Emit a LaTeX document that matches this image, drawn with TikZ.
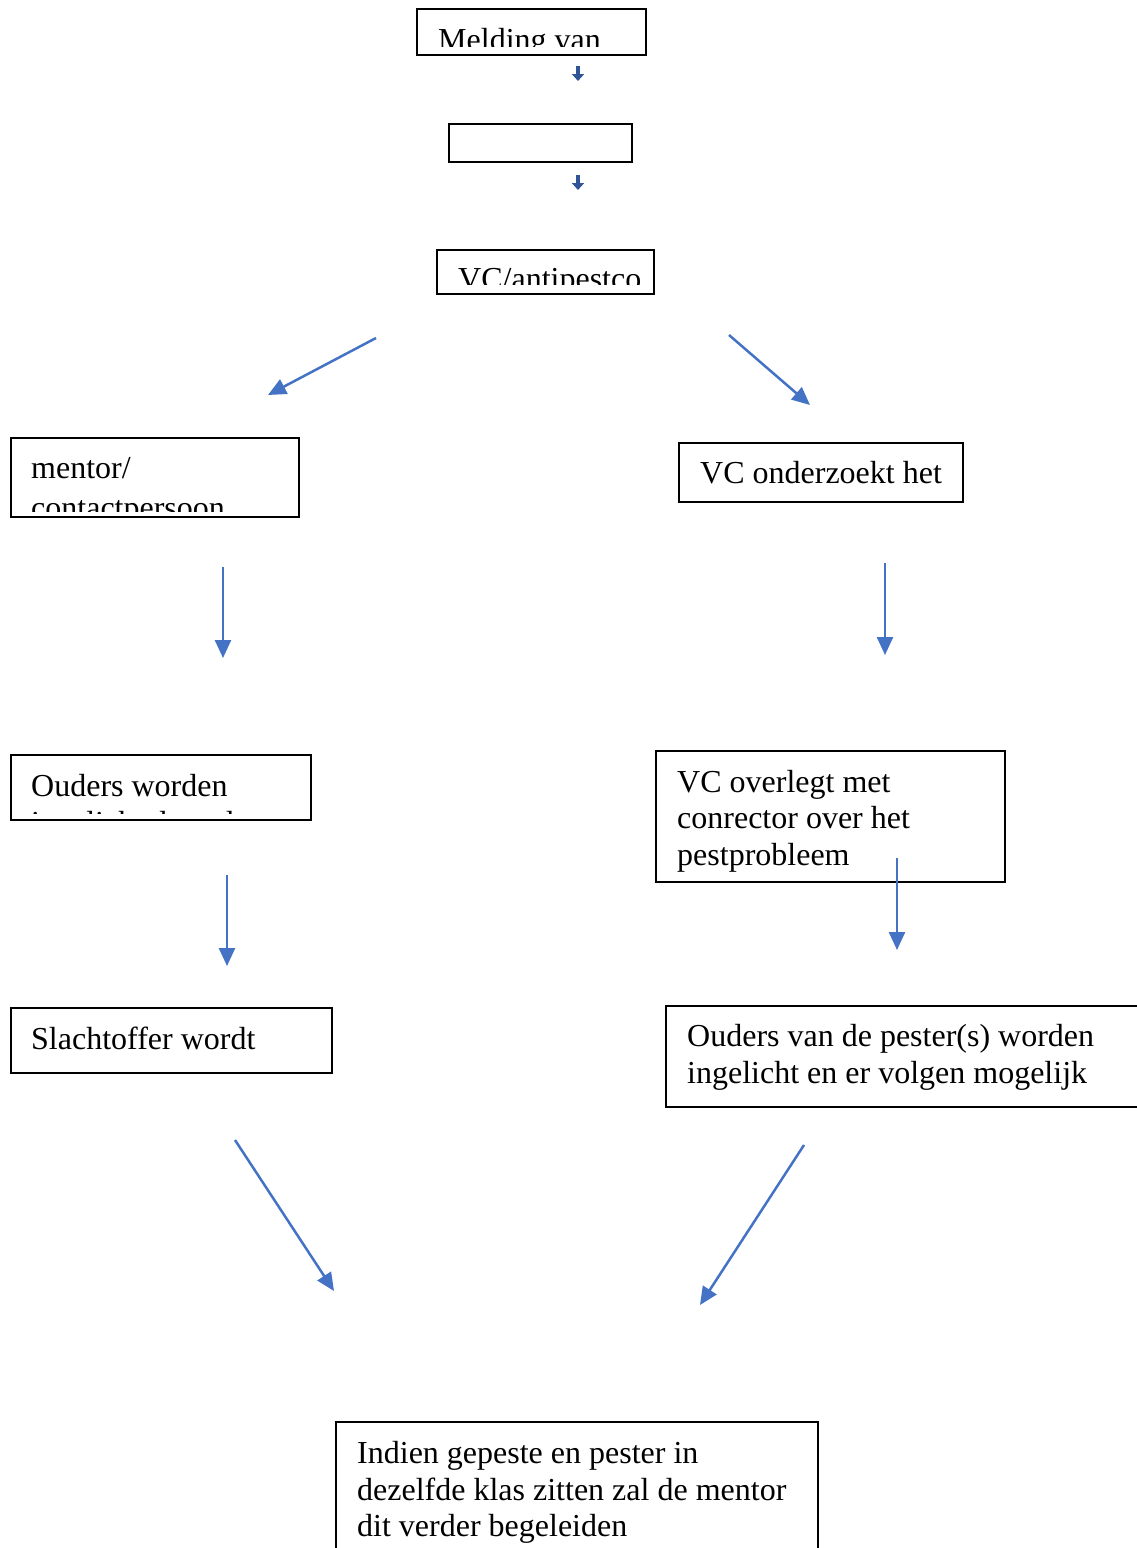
\documentclass[tikz,border=0pt]{standalone}
\usepackage{fontspec}
\setmainfont{Liberation Serif}
\usetikzlibrary{arrows.meta}

\definecolor{flowblue}{HTML}{4472C4}
\definecolor{darkblue}{HTML}{2F5597}

\tikzset{
    box/.style={draw, line width=1.8pt, anchor=north west, inner sep=0pt, outer sep=0pt},
    txt/.style={anchor=base west, inner sep=0pt, font=\fontsize{32}{37}\selectfont},
    flow/.style={draw=flowblue, line width=2.5pt, -{Triangle[width=16pt,length=18pt]}},
    tick/.style={draw=darkblue, line width=4.5pt, -{Triangle[width=12pt,length=7pt]}}
}

\begin{document}
\begin{tikzpicture}[x=1pt, y=-1pt]
    \useasboundingbox (0,0) rectangle (1137,1548);
    \clip (0,0) rectangle (1137,1548);

    % top column
    \node[box, minimum width=229pt, minimum height=46pt] (melding) at (417,9) {};
    \begin{scope}
        \clip (417,9) rectangle (646,46);
        \node[txt] (meldingtxt) at (438,50) {Melding van};
    \end{scope}
    \node[box, minimum width=183pt, minimum height=38pt] (leeg) at (449,124) {};
    \node[box, minimum width=217pt, minimum height=44pt] (vc) at (437,250) {};
    \begin{scope}
        \clip (437,250) rectangle (654,284);
        \node[txt] (vctxt) at (458,289) {VC/antipestco};
    \end{scope}

    % left column
    \node[box, minimum width=288pt, minimum height=79pt] (mentor) at (11,438) {};
    \node[txt] (mentortxt) at (31,478) {mentor/};
    \begin{scope}
        \clip (11,438) rectangle (299,511);
        \node[txt] (contacttxt) at (31,518) {contactpersoon};
    \end{scope}
    \node[box, minimum width=300pt, minimum height=65pt] (ouders) at (11,755) {};
    \node[txt] (ouderstxt) at (31,796) {Ouders worden};
    \begin{scope}
        \clip (11,755) rectangle (311,813);
        \node[txt] (ingelichttxt) at (31,833) {ingelicht door de mentor};
    \end{scope}
    \node[box, minimum width=321pt, minimum height=65pt] (slachtoffer) at (11,1008) {};
    \node[txt] (slachtoffertxt) at (31,1049) {Slachtoffer wordt};

    % right column
    \node[box, minimum width=284pt, minimum height=59pt] (onderzoek) at (679,443) {};
    \node[txt] (onderzoektxt) at (700,483) {VC onderzoekt het};
    \node[box, minimum width=349pt, minimum height=131pt] (overleg) at (656,751) {};
    \foreach \t [count=\i] in {VC overlegt met, conrector over het, pestprobleem}
        \node[txt] (overleg\i) at (677,{792+36.5*(\i-1)}) {\t};
    \node[box, minimum width=500pt, minimum height=101pt] (pesters) at (666,1006) {};
    \node[txt] (pesters1) at (687,1046) {Ouders van de pester(s) worden};
    \node[txt] (pesters2) at (687,1083) {ingelicht en er volgen mogelijk};

    % bottom
    \node[box, minimum width=482pt, minimum height=160pt] (indien) at (336,1422) {};
    \node[txt] (indien1) at (357,1463) {Indien gepeste en pester in};
    \node[txt] (indien2) at (357,1500) {dezelfde klas zitten zal de mentor};
    \node[txt] (indien3) at (357,1536) {dit verder begeleiden};

    % arrow ends
    \coordinate (t1s) at (578,66);   \coordinate (t1e) at (578,81);
    \coordinate (t2s) at (578,175);  \coordinate (t2e) at (578,190);
    \coordinate (a1s) at (376,338);  \coordinate (a1e) at (268,395);
    \coordinate (a2s) at (729,335);  \coordinate (a2e) at (810,405);
    \coordinate (a3s) at (223,567);  \coordinate (a3e) at (223,658);
    \coordinate (a4s) at (885,563);  \coordinate (a4e) at (885,655);
    \coordinate (a5s) at (227,875);  \coordinate (a5e) at (227,966);
    \coordinate (a6s) at (897,858);  \coordinate (a6e) at (897,950);
    \coordinate (a7s) at (235,1140); \coordinate (a7e) at (334,1291);
    \coordinate (a8s) at (804,1145); \coordinate (a8e) at (700,1305);

    \draw[tick] (t1s) -- (t1e);
    \draw[tick] (t2s) -- (t2e);
    \foreach \a in {a1,a2,a3,a4,a5,a6,a7,a8}
        \draw[flow] (\a s) -- (\a e);
\end{tikzpicture}
\end{document}
